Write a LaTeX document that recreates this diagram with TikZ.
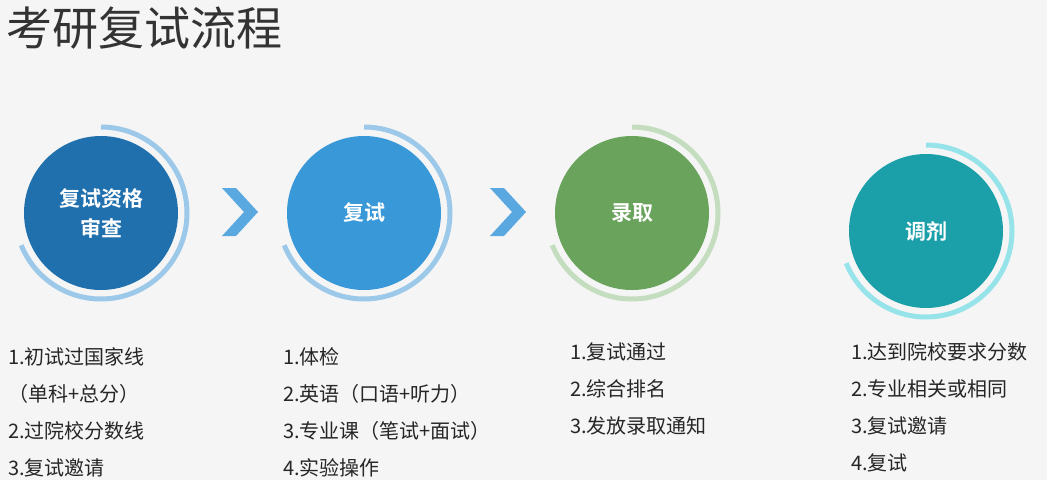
\documentclass[tikz,border=0pt]{standalone}
\usepackage{fontspec}
\newfontfamily\cjk{Noto Sans CJK SC}
\newfontfamily\cjkb{Noto Sans CJK SC Bold}
\definecolor{bg}{HTML}{F5F5F5}
\definecolor{c1}{HTML}{2070AE}\definecolor{a1}{HTML}{9CC8EA}
\definecolor{c2}{HTML}{3898D8}
\definecolor{c3}{HTML}{6AA35C}\definecolor{a3}{HTML}{C4DDBF}
\definecolor{c4}{HTML}{1BA0AA}\definecolor{a4}{HTML}{96E4EA}
\definecolor{chev}{HTML}{5AA8E0}
\begin{document}
\begin{tikzpicture}[x=1pt,y=-1pt,
  ball/.style={circle,minimum size=154pt,inner sep=0pt,text=white,font=\cjkb\fontsize{21}{30}\selectfont,align=center},
  item/.style={anchor=west,font=\cjk\fontsize{20}{22}\selectfont,text=black!85,inner sep=0pt},
  ring/.style={line width=5pt}]
\fill[bg] (0,0) rectangle (1047,480);
\useasboundingbox (0,0) rectangle (1047,480);
\node[anchor=west,inner sep=0pt,font=\cjk\fontsize{46}{50}\selectfont,text=black!80] (title) at (6,28) {考研复试流程};
\node[ball,fill=c1] (b1) at (101,213) {复试资格\\审查};
\node[ball,fill=c2] (b2) at (364,213) {复试};
\node[ball,fill=c3] (b3) at (632,213) {录取};
\node[ball,fill=c4] (b4) at (926,231) {调剂};
\foreach \b/\c in {b1/a1,b2/a1,b3/a3,b4/a4}{
  \draw[ring,draw=\c] (\b.center) ++(0,-86) arc[start angle=-90,end angle=158,radius=86];
}
\node[inner sep=0pt] (ch1) at (240,212) {};
\node[inner sep=0pt] (ch2) at (508,212) {};
\foreach \n in {ch1,ch2}{
  \fill[chev] (\n.center) ++(-18,-24) -- ++(14,0) -- ++(22,24) -- ++(-22,24) -- ++(-14,0) -- ++(22,-24) -- cycle;
}
\node[item] (l11) at (8,357) {1.初试过国家线};
\node[item] (l12) at (8,394) {（单科+总分）};
\node[item] (l13) at (8,431) {2.过院校分数线};
\node[item] (l14) at (8,468) {3.复试邀请};
\node[item] (l21) at (283,357) {1.体检};
\node[item] (l22) at (283,394) {2.英语（口语+听力）};
\node[item] (l23) at (283,431) {3.专业课（笔试+面试）};
\node[item] (l24) at (283,468) {4.实验操作};
\node[item] (l31) at (570,352) {1.复试通过};
\node[item] (l32) at (570,389) {2.综合排名};
\node[item] (l33) at (570,426) {3.发放录取通知};
\node[item] (l41) at (851,352) {1.达到院校要求分数};
\node[item] (l42) at (851,389) {2.专业相关或相同};
\node[item] (l43) at (851,426) {3.复试邀请};
\node[item] (l44) at (851,463) {4.复试};
\end{tikzpicture}
\end{document}
